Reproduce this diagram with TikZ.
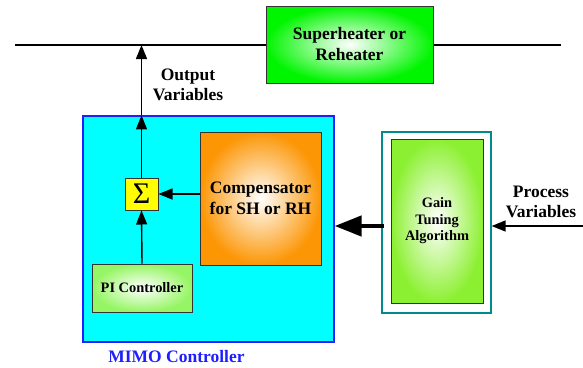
\documentclass[tikz,border=0pt]{standalone}
\usepackage{fontspec}
\setmainfont{Liberation Serif}
\usetikzlibrary{arrows.meta}

\definecolor{shgreen}{RGB}{0,245,0}
\definecolor{comporange}{RGB}{252,150,5}
\definecolor{pigreen}{RGB}{150,245,100}
\definecolor{gaingreen}{RGB}{140,240,50}
\definecolor{mimocyan}{RGB}{0,255,255}
\definecolor{mimoblue}{RGB}{30,30,255}
\definecolor{gainteal}{RGB}{0,140,140}
\definecolor{sigyellow}{RGB}{255,255,0}

\tikzset{
  block/.style={draw=black!80, line width=1pt, inner sep=0pt, align=center},
  lbl/.style n args={2}{font=\bfseries\fontsize{#1}{#2}\selectfont, align=center, inner sep=0pt},
  flow/.style={line width=1.4pt, -{Triangle[length=14pt,width=11pt]}},
  bigflow/.style={line width=4.5pt, -{Triangle[length=27pt,width=20pt]}},
}

\begin{document}
\begin{tikzpicture}[x=1pt,y=-1pt]
\useasboundingbox (0,0) rectangle (583,367);

% steam line
\coordinate (lineL) at (15,45);
\coordinate (lineR) at (561,45);
\draw[line width=1.4pt] (lineL) -- (lineR);

% superheater / reheater
\node[block, inner color=white, outer color=shgreen, minimum width=167pt, minimum height=77pt,
      font=\bfseries\fontsize{17.5}{21}\selectfont] (sh) at (349.5,44.5) {Superheater or\\Reheater};

% MIMO controller frame
\node[draw=mimoblue, fill=mimocyan, line width=1.3pt, minimum width=251pt, minimum height=226pt, inner sep=0pt] (mimo) at (208.5,229) {};
\node[lbl={17.5}{21}, text=mimoblue] (mimolbl) at (176.5,357) {MIMO Controller};

% inner blocks
\node[block, fill=sigyellow, minimum width=33pt, minimum height=32pt, font=\fontsize{30}{30}\selectfont] (sig) at (141.5,194) {Σ};
\node[block, inner color=white, outer color=comporange, minimum width=121pt, minimum height=133pt,
      font=\bfseries\fontsize{17.5}{20.5}\selectfont] (comp) at (260.5,198.5) {Compensator\\for SH or RH};
\node[block, inner color=white, outer color=pigreen, minimum width=100pt, minimum height=48pt,
      font=\bfseries\fontsize{14.4}{16.5}\selectfont] (pi) at (142,288) {PI Controller};

% gain tuning
\node[draw=gainteal, fill=white, line width=1.3pt, minimum width=109pt, minimum height=181pt, inner sep=0pt] (gainout) at (436.5,222.5) {};
\node[block, inner color=white, outer color=gaingreen, minimum width=92pt, minimum height=164pt,
      font=\bfseries\fontsize{14.4}{16.5}\selectfont] (gain) at (437,221) {Gain\\Tuning\\Algorithm};

% labels
\node[lbl={17.5}{20}] (outlbl) at (188,85) {Output\\Variables};
\node[lbl={17.5}{20}] (pvlbl) at (541,202) {Process\\Variables};

% connectors
\coordinate (mimotop) at (sig.north |- mimo.north);
\coordinate (linehit) at (sig.north |- lineL);
\coordinate (pvsrc) at (583,226);
\draw[flow] (sig.north) -- (mimotop);
\draw[flow] (mimotop) -- (linehit);
\draw[flow] (comp.west |- sig.east) -- (sig.east);
\draw[flow] (pi.north) -- (sig.south);
\draw[flow] (pvsrc) -- (pvsrc -| gainout.east);
\draw[bigflow] ([xshift=3pt]gainout.west |- pvsrc) -- (mimo.east |- pvsrc);
\end{tikzpicture}
\end{document}
